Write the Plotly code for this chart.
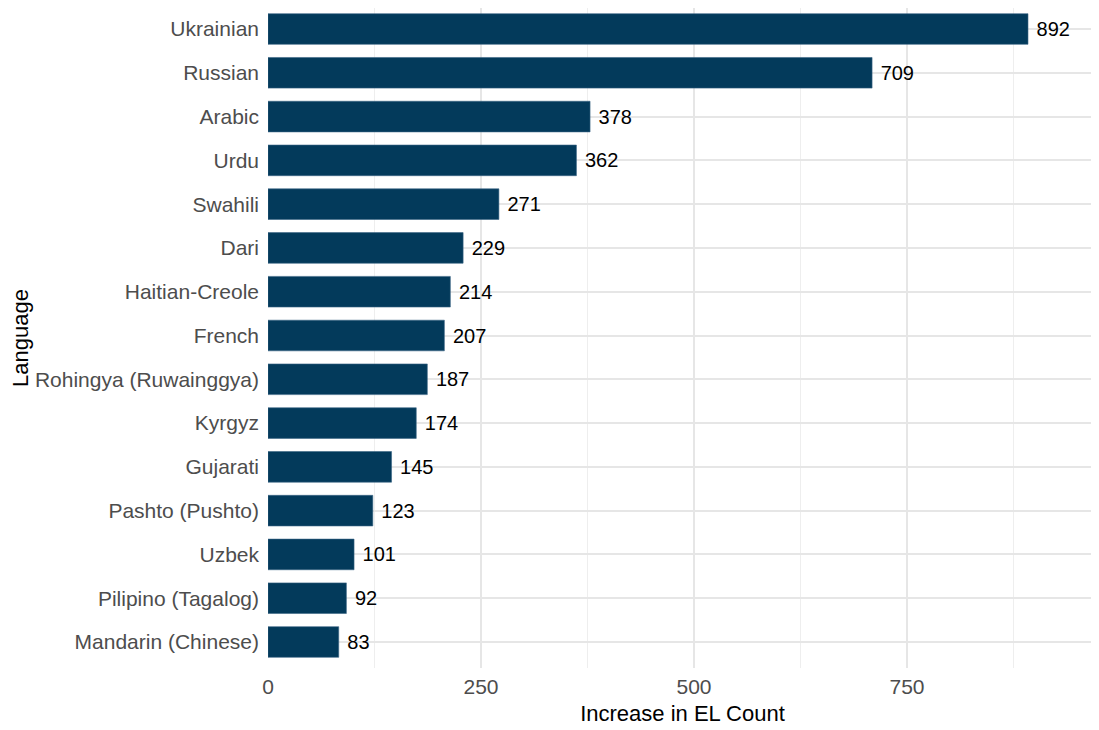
import plotly.graph_objects as go

languages = ["Ukrainian", "Russian", "Arabic", "Urdu", "Swahili", "Dari", "Haitian-Creole",
             "French", "Rohingya (Ruwainggya)", "Kyrgyz", "Gujarati", "Pashto (Pushto)",
             "Uzbek", "Pilipino (Tagalog)", "Mandarin (Chinese)"]
increase = [892, 709, 378, 362, 271, 229, 214, 207, 187, 174, 145, 123, 101, 92, 83]
x_ticks = [0, 250, 500, 750]

fig = go.Figure(go.Bar(
    x=increase, y=languages, orientation="h",
    marker=dict(color="#033a5b", line=dict(color="#3a6585", width=0.6)),
    width=0.7,
    text=[" " + str(v) for v in increase], textposition="outside",
    textfont=dict(family="Liberation Sans, Arial, sans-serif", size=20, color="#000000"),
    cliponaxis=False,
))

fig.update_layout(
    width=1091, height=722,
    margin=dict(l=260, r=2, t=0, b=62),
    paper_bgcolor="white", plot_bgcolor="white",
    font=dict(family="Liberation Sans, Arial, sans-serif"),
    showlegend=False,
    xaxis=dict(
        range=[0, 973], tickvals=x_ticks, ticktext=[str(t) for t in x_ticks],
        showgrid=True, gridcolor="#e6e6e6", gridwidth=1.6, zeroline=False,
        minor=dict(tickvals=[125, 375, 625, 875], showgrid=True, gridcolor="#eeeeee", gridwidth=1),
        tickfont=dict(size=21, color="#4d4d4d"), ticks="", ticklabelstandoff=4,
        title=dict(text="Increase in EL Count", font=dict(size=22, color="#000000"), standoff=8),
        automargin=False, fixedrange=True,
    ),
    yaxis=dict(
        categoryorder="array", categoryarray=languages[::-1], range=[-0.594, 14.48],
        showgrid=True, gridcolor="#e6e6e6", gridwidth=1.6, zeroline=False,
        tickfont=dict(size=21, color="#4d4d4d"), ticks="", ticklabelstandoff=8,
        title=dict(text="Language", font=dict(size=22, color="#000000"), standoff=9),
        automargin=False,
    ),
)

fig.write_html("out.html")
